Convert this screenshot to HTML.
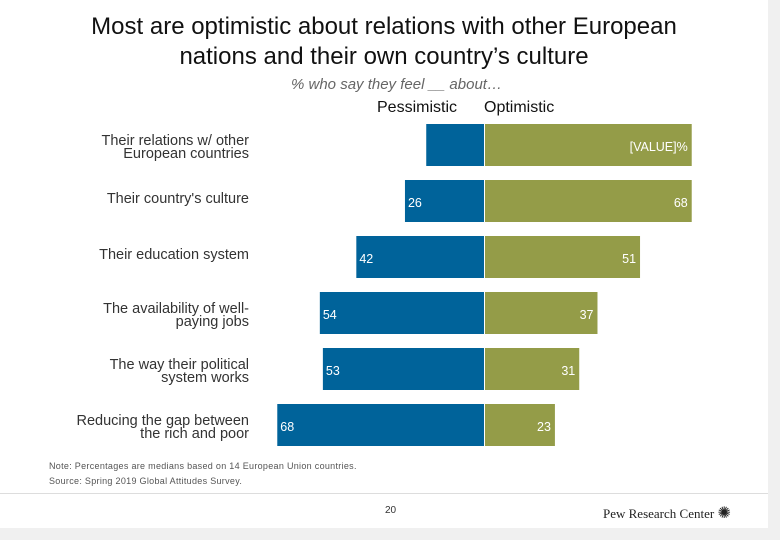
<!DOCTYPE html>
<html><head><meta charset="utf-8"><style>
body{margin:0;width:780px;height:540px;background:#f0f0f0;font-family:"Liberation Sans",sans-serif;overflow:hidden;position:relative}
#slide{position:absolute;left:0;top:0;width:768px;height:528px;background:#fff}
.t{position:absolute;white-space:nowrap}
</style></head><body>
<div id="slide"></div>
<div class="t" style="left:0;width:768px;top:12px;text-align:center;font-size:24px;line-height:30px;color:#111">Most are optimistic about relations with other European<br>nations and their own country’s culture</div>
<div class="t" style="left:291px;top:76px;font-size:15px;font-style:italic;color:#666">% who say they feel __ about…</div>
<div class="t" style="left:377px;top:99px;font-size:16px;color:#111">Pessimistic</div>
<div class="t" style="left:484px;top:99px;font-size:16px;color:#111">Optimistic</div>
<svg id="chart" width="780" height="540" style="position:absolute;left:0;top:0"></svg>
<div class="t" style="left:49px;top:461px;font-size:9px;color:#555;letter-spacing:0.3px">Note: Percentages are medians based on 14 European Union countries.</div>
<div class="t" style="left:49px;top:476px;font-size:9px;color:#555;letter-spacing:0.3px">Source: Spring 2019 Global Attitudes Survey.</div>
<div style="position:absolute;left:0;top:493px;width:768px;height:1px;background:#ddd"></div>
<div class="t" style="left:385px;top:505px;font-size:10px;color:#333">20</div>
<div class="t" style="left:603px;top:503px;font-size:13px;font-family:'Liberation Serif',serif;color:#222">Pew Research Center <span style="font-size:16px">✺</span></div>
<script>
const categories=["Their relations w/ other\nEuropean countries","Their country's culture","Their education system","The availability of well-\npaying jobs","The way their political\nsystem works","Reducing the gap between\nthe rich and poor"];
const pessimistic=[19,26,42,54,53,68];
const optimistic=[68,68,51,37,31,23];
const valueLabels=["[VALUE]%",null,null,null,null,null];
const svg=document.getElementById('chart');
const NS='http://www.w3.org/2000/svg';
const cx=484,scale=3.04,top0=124,step=56,bh=42;
const x=v=>v*scale;
function el(t,a){const e=document.createElementNS(NS,t);for(const k in a)e.setAttribute(k,a[k]);svg.appendChild(e);return e;}
categories.forEach((c,i)=>{
  const y=top0+i*step;
  const pw=x(pessimistic[i]);
  const b1=el('rect',{x:cx-pw,y:y,width:pw,height:bh,fill:'#00639a'});
  
  
  const ow=x(optimistic[i]);
  const b2=el('rect',{x:cx+1,y:y,width:ow,height:bh,fill:'#949c48'});
  
  
  if(i>0){
    const l1=el('text',{x:cx-pw+3,y:y+27,fill:'#fff','font-size':12.5,'font-family':'Liberation Sans'});
    l1.textContent=pessimistic[i];
    
    
  }
  const l2=el('text',{x:cx+ow-3,y:y+27,fill:'#fff','font-size':12.5,'text-anchor':'end','font-family':'Liberation Sans'});
  l2.textContent=valueLabels[i]||optimistic[i];
  
  
  const lines=c.split('\n');
  lines.forEach((ln,j)=>{
    const t=el('text',{x:249,y:y+(lines.length>1?21:23)+j*13,fill:'#333','font-size':14.5,'text-anchor':'end','font-family':'Liberation Sans'});
    t.textContent=ln;
    
    
  });
});
</script>
</body></html>
